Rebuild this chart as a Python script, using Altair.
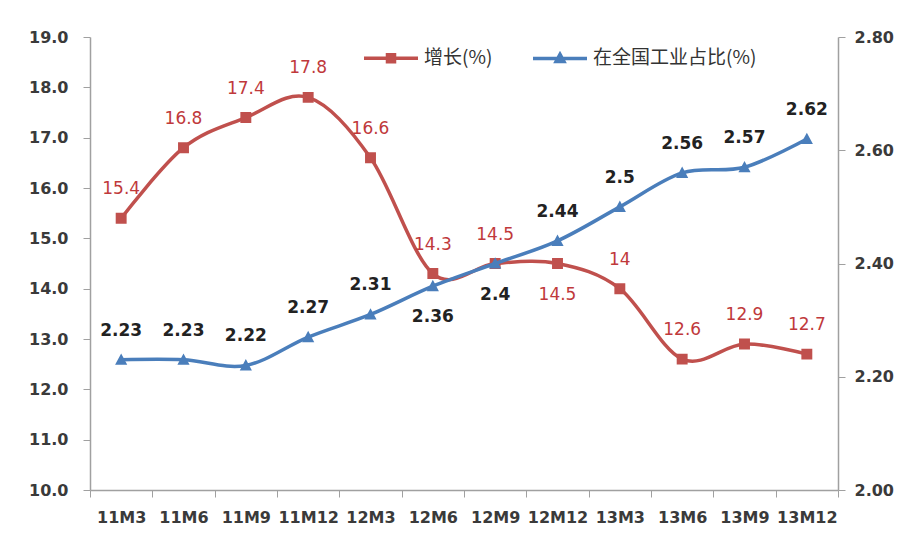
import altair as alt
import pandas as pd

periods = ["11M3", "11M6", "11M9", "11M12", "12M3", "12M6",
           "12M9", "12M12", "13M3", "13M6", "13M9", "13M12"]
growth = [15.4, 16.8, 17.4, 17.8, 16.6, 14.3, 14.5, 14.5, 14.0, 12.6, 12.9, 12.7]
share = [2.23, 2.23, 2.22, 2.27, 2.31, 2.36, 2.40, 2.44, 2.50, 2.56, 2.57, 2.62]
growth_label_pos = ["above", "above", "above", "above", "above", "above",
                    "above", "below", "above", "above", "above", "above"]
share_label_pos = ["above", "above", "above", "above", "above", "below",
                   "below", "above", "above", "above", "above", "above"]

S_GROWTH = "增长(%)"
S_SHARE = "在全国工业占比(%)"
RED = "#C0504D"
BLUE = "#4A7EBB"

df_g = pd.DataFrame({"period": periods, "value": growth,
                     "series": S_GROWTH, "pos": growth_label_pos})
df_s = pd.DataFrame({"period": periods, "value": share,
                     "series": S_SHARE, "pos": share_label_pos})

x_enc = alt.X("period:N", sort=periods, bandPosition=0.5,
              scale=alt.Scale(type="band", paddingInner=0, paddingOuter=0),
              axis=alt.Axis(title=None, tickBand="extent", labelAngle=0,
                            tickSize=7, labelPadding=12))

MARK_SIZE = 7056
LEG_SIZE = 2916
# each symbol: a line segment (only visible when stroked, i.e. in the legend) + marker
sq_path = "M-1,0H1M-0.13,-0.13H0.13V0.13H-0.13Z"
tri_path = "M-1,0H1M0,-0.15L0.145,0.12H-0.145Z"

legend = alt.Legend(title=None, orient="none", legendX=272, legendY=-8,
                    direction="horizontal", labelFont="Noto Sans CJK SC",
                    labelFontSize=19, labelColor="#333333", labelFontWeight="normal",
                    symbolSize=LEG_SIZE, symbolStrokeWidth=3.5, columnPadding=33,
                    labelOffset=4, labelLimit=400)

dom = [S_GROWTH, S_SHARE]
fill_enc = alt.Fill("series:N", scale=alt.Scale(domain=dom, range=[RED, BLUE]),
                    legend=legend)
stroke_enc = alt.Stroke("series:N", scale=alt.Scale(domain=dom, range=[RED, BLUE]),
                        legend=legend)
shape_enc = alt.Shape("series:N", scale=alt.Scale(domain=dom, range=[sq_path, tri_path]),
                      legend=legend)


def group(df, domain, axis, line_color, label_color, label_weight):
    y = alt.Y("value:Q", scale=alt.Scale(domain=domain, nice=False, zero=False),
              axis=axis)
    base = alt.Chart(df).encode(x=x_enc, y=y)
    line = base.mark_line(interpolate="cardinal", strokeWidth=3.5, color=line_color)
    pts = base.mark_point(filled=True, size=MARK_SIZE, opacity=1, strokeWidth=0).encode(
        fill=fill_enc, stroke=stroke_enc, shape=shape_enc)
    lab = base.transform_calculate(label="'' + datum.value")
    above = lab.transform_filter("datum.pos == 'above'").mark_text(
        dy=-29, fontSize=17, font="DejaVu Sans", fontWeight=label_weight,
        color=label_color).encode(text="label:N")
    below = lab.transform_filter("datum.pos == 'below'").mark_text(
        dy=31, fontSize=17, font="DejaVu Sans", fontWeight=label_weight,
        color=label_color).encode(text="label:N")
    return alt.layer(line, pts, above, below)


left_axis = alt.Axis(title=None, orient="left", format=".1f",
                     values=[10, 11, 12, 13, 14, 15, 16, 17, 18, 19],
                     tickSize=7, labelPadding=15)
right_axis = alt.Axis(title=None, orient="right", format=".2f",
                      values=[2.0, 2.2, 2.4, 2.6, 2.8], tickSize=7, labelPadding=9)

red = group(df_g, [10, 19], left_axis, RED, "#C0393B", "normal")
blue = group(df_s, [2.0, 2.8], right_axis, BLUE, "#222222", "bold")

chart = (
    alt.layer(red, blue)
    .resolve_scale(y="independent")
    .properties(width=748, height=453,
                padding={"left": 90, "top": 37, "right": 67, "bottom": 52},
                autosize=alt.AutoSizeParams(type="none"),
                background="white")
    .configure_axis(labelFont="DejaVu Sans", labelFontWeight="bold",
                    labelFontSize=16, labelColor="#3a3a3a", grid=False,
                    domainColor="#a0a0a0", tickColor="#a0a0a0", domainWidth=1.5)
    .configure_view(stroke=None)
)

chart.save("out.html", embed_options={"renderer": "svg", "actions": False})
